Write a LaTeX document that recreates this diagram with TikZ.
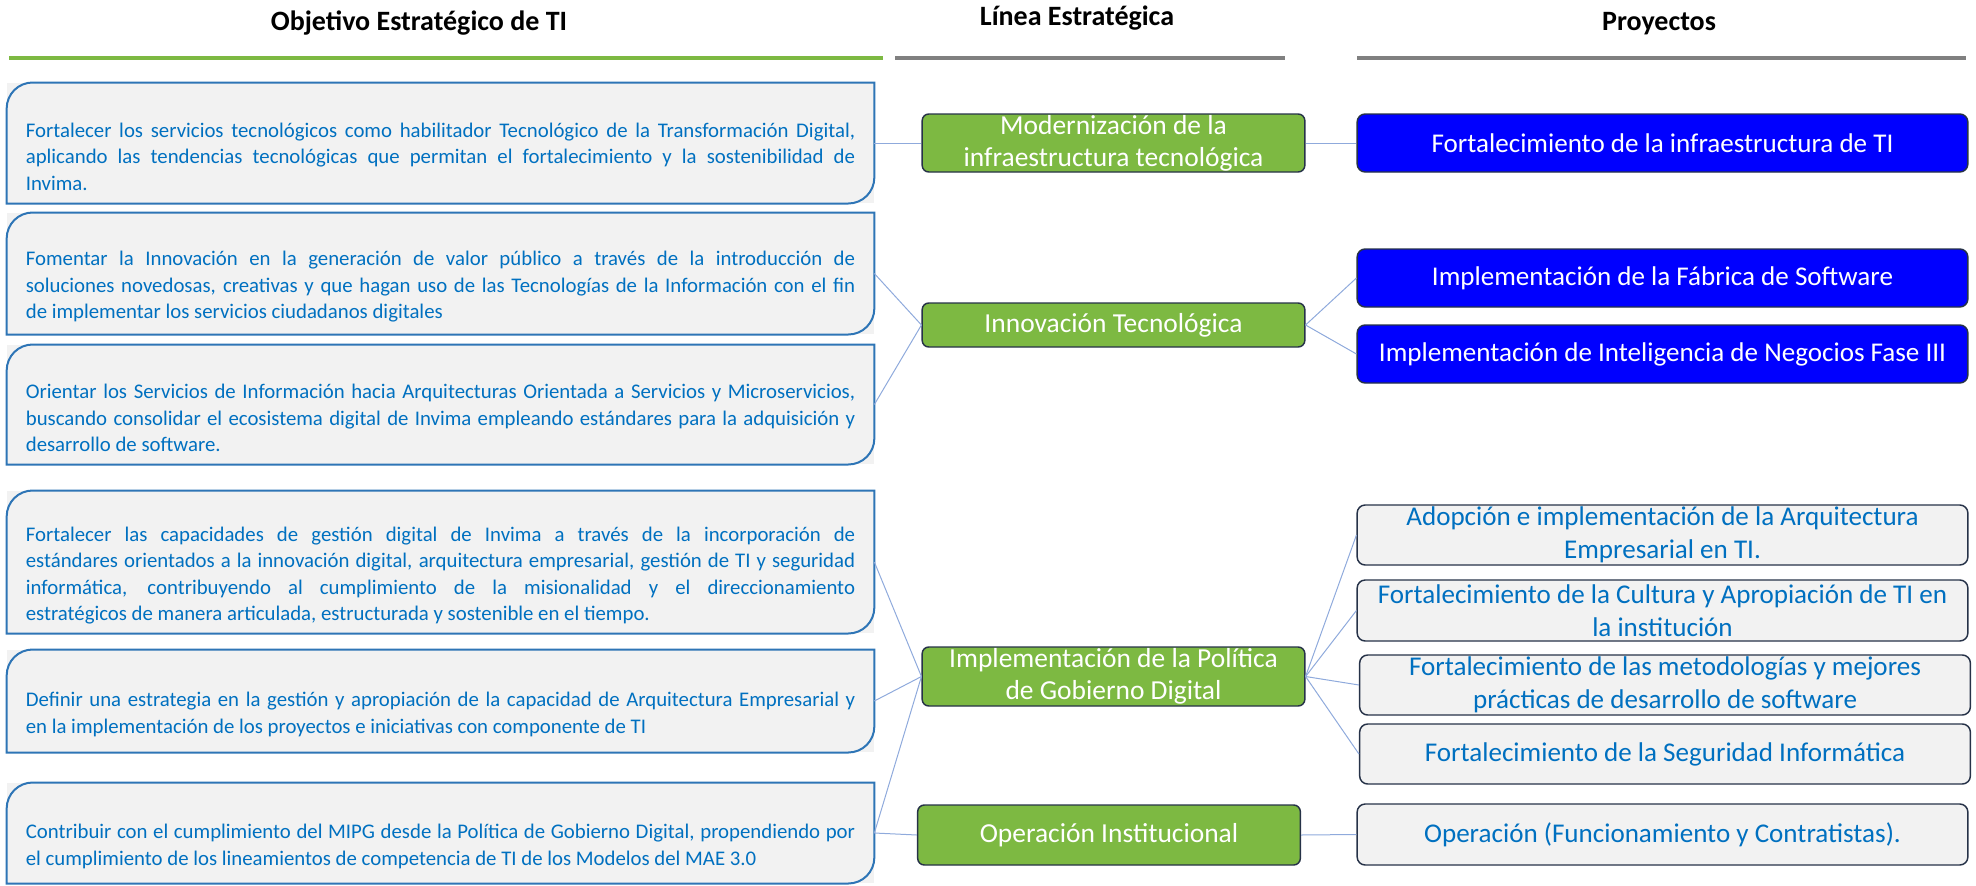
\documentclass[tikz,border=0pt]{standalone}
\usepackage{fontspec}
\setmainfont{Carlito}
\usetikzlibrary{calc}

\definecolor{objblue}{RGB}{0,112,192}
\definecolor{objline}{RGB}{46,117,182}
\definecolor{boxgray}{RGB}{242,242,242}
\definecolor{lineagreen}{RGB}{125,185,66}
\definecolor{headgray}{RGB}{128,128,128}
\definecolor{darkedge}{RGB}{38,50,72}
\definecolor{linkblue}{RGB}{143,170,220}

\tikzset{every picture/.style={line width=0.75pt}}
\tikzset{
  header/.style={font=\fontsize{21}{25}\bfseries\selectfont, inner sep=0pt},
  objbox/.style={fill=boxgray, text=objblue, text width=622pt, minimum width=650pt,
    inner xsep=14pt, inner ysep=0pt, align=justify,
    font=\fontsize{15.6}{19.9}\selectfont, execute at begin node={\rule{0pt}{31pt}}},
  lineabox/.style={fill=lineagreen, draw=darkedge, line width=1.1pt, rounded corners=5pt,
    text=white, align=center, minimum width=287pt, inner sep=0pt,
    font=\fontsize{20.6}{24}\selectfont},
  proybox/.style={fill=blue, draw=darkedge, line width=1.1pt, rounded corners=6pt,
    text=white, align=center, minimum width=458pt, inner sep=0pt,
    font=\fontsize{20.3}{24.75}\selectfont},
  proygray/.style={proybox, fill=boxgray, text=objblue},
  link/.style={draw=linkblue, line width=0.75pt},
}

\begin{document}
\begin{tikzpicture}[x=0.75pt,y=0.75pt,yscale=-1,xscale=1]
\useasboundingbox (0,0) rectangle (1976,885);

% Text Node
\node[header] (tobj) at (419,23) {Objetivo Estratégico de TI};
% Text Node
\node[header] (tlin) at (1077,18) {Línea Estratégica};
% Text Node
\node[header] (tpro) at (1659,24) {Proyectos};

%Straight Lines
\draw[lineagreen, line width=3pt] (9,58) -- (883,58);
\draw[headgray, line width=3pt] (895,58) -- (1285,58);
\draw[headgray, line width=3pt] (1357,58) -- (1966,58);

%Objetivos
\node[objbox, minimum height=90pt] (obj1) at (440.5,143) {Fortalecer los servicios tecnológicos como habilitador Tecnológico de la Transformación Digital,\linebreak aplicando las tendencias tecnológicas que permitan el fortalecimiento  y la sostenibilidad de\linebreak Invima.};
\node[objbox, minimum height=90.75pt] (obj2) at (440.5,273.5) {Fomentar la Innovación en la generación de valor público a través de la introducción de\linebreak soluciones novedosas, creativas y que hagan uso de las Tecnologías de la Información con el fin\linebreak de implementar los servicios ciudadanos digitales};
\node[objbox, minimum height=89.25pt] (obj3) at (440.5,404.5) {Orientar los Servicios de Información hacia Arquitecturas Orientada a Servicios y Microservicios,\linebreak buscando consolidar el ecosistema digital de Invima empleando estándares para la adquisición y\linebreak desarrollo de software.};
\node[objbox, minimum height=106.5pt] (obj4) at (440.5,562) {Fortalecer las capacidades de gestión digital de Invima a través de la incorporación de\linebreak estándares orientados a la innovación digital, arquitectura empresarial, gestión de TI y seguridad\linebreak informática, contribuyendo al cumplimiento de la misionalidad y el direccionamiento\linebreak estratégicos de manera articulada, estructurada y sostenible en el tiempo.};
\node[objbox, minimum height=76.5pt] (obj5) at (440.5,701) {Definir una estrategia en la gestión y apropiación de la capacidad de Arquitectura Empresarial y\linebreak en la implementación de los proyectos e iniciativas con componente de TI};
\node[objbox, minimum height=75pt] (obj6) at (440.5,833) {Contribuir con el cumplimiento del MIPG desde la Política de Gobierno Digital, propendiendo por\linebreak el cumplimiento de los lineamientos de competencia de TI de los Modelos del MAE 3.0};

%Rounded Rect borders
\foreach \n in {obj1,obj2,obj3,obj4,obj5,obj6}
  \draw[objline, line width=1.5pt] (\n.south west) -- ($(\n.north west)+(0,26)$)
    arc[start angle=180,end angle=270,radius=26] -- (\n.north east)
    -- ($(\n.south east)-(0,26)$) arc[start angle=0,end angle=90,radius=26] -- cycle;

%Lineas
\node[lineabox, minimum height=43.5pt] (lin1) at (1113.5,143) {Modernización de la\\infraestructura tecnológica};
\node[lineabox, minimum height=33pt] (lin2) at (1113.5,325) {Innovación Tecnológica};
\node[lineabox, minimum height=44.25pt] (lin3) at (1113.5,676.5) {Implementación de la Política\\de Gobierno Digital};
\node[lineabox, minimum height=45pt] (lin4) at (1109,835) {Operación Institucional};

%Proyectos
\node[proybox, minimum height=43.5pt] (pro1) at (1662.5,143) {Fortalecimiento de la infraestructura de TI};
\node[proybox, minimum height=43.5pt] (pro2) at (1662.5,278) {Implementación de la Fábrica de Software};
\node[proybox, minimum height=43.5pt] (pro3) at (1662.5,354) {Implementación de Inteligencia de Negocios Fase III};
\node[proygray, minimum height=45pt] (pro4) at (1662.5,535) {Adopción e implementación de la Arquitectura\\Empresarial en TI.};
\node[proygray, minimum height=45.75pt] (pro5) at (1662.5,610.5) {Fortalecimiento de la Cultura y Apropiación de TI en\\la institución};
\node[proygray, minimum height=45pt] (pro6) at (1665,685) {Fortalecimiento de las metodologías y mejores\\prácticas de desarrollo de software};
\node[proygray, minimum height=45pt] (pro7) at (1665,754) {Fortalecimiento de la Seguridad Informática};
\node[proygray, minimum height=45.75pt] (pro8) at (1662.5,834.5) {Operación (Funcionamiento y Contratistas).};

%Straight Lines
\draw[link] (obj1.east) -- (lin1.west);
\draw[link] (lin1.east) -- (pro1.west);
\draw[link] (obj2.east) -- (lin2.west);
\draw[link] (obj3.east) -- (lin2.west);
\draw[link] (lin2.east) -- (pro2.west);
\draw[link] (lin2.east) -- (pro3.west);
\foreach \o in {obj4,obj5,obj6}
  \draw[link] (\o.east) -- (lin3.west);
\draw[link] (obj6.east) -- (lin4.west);
\foreach \p in {pro4,pro5,pro6,pro7}
  \draw[link] (lin3.east) -- (\p.west);
\draw[link] (lin4.east) -- (pro8.west);

\end{tikzpicture}
\end{document}
